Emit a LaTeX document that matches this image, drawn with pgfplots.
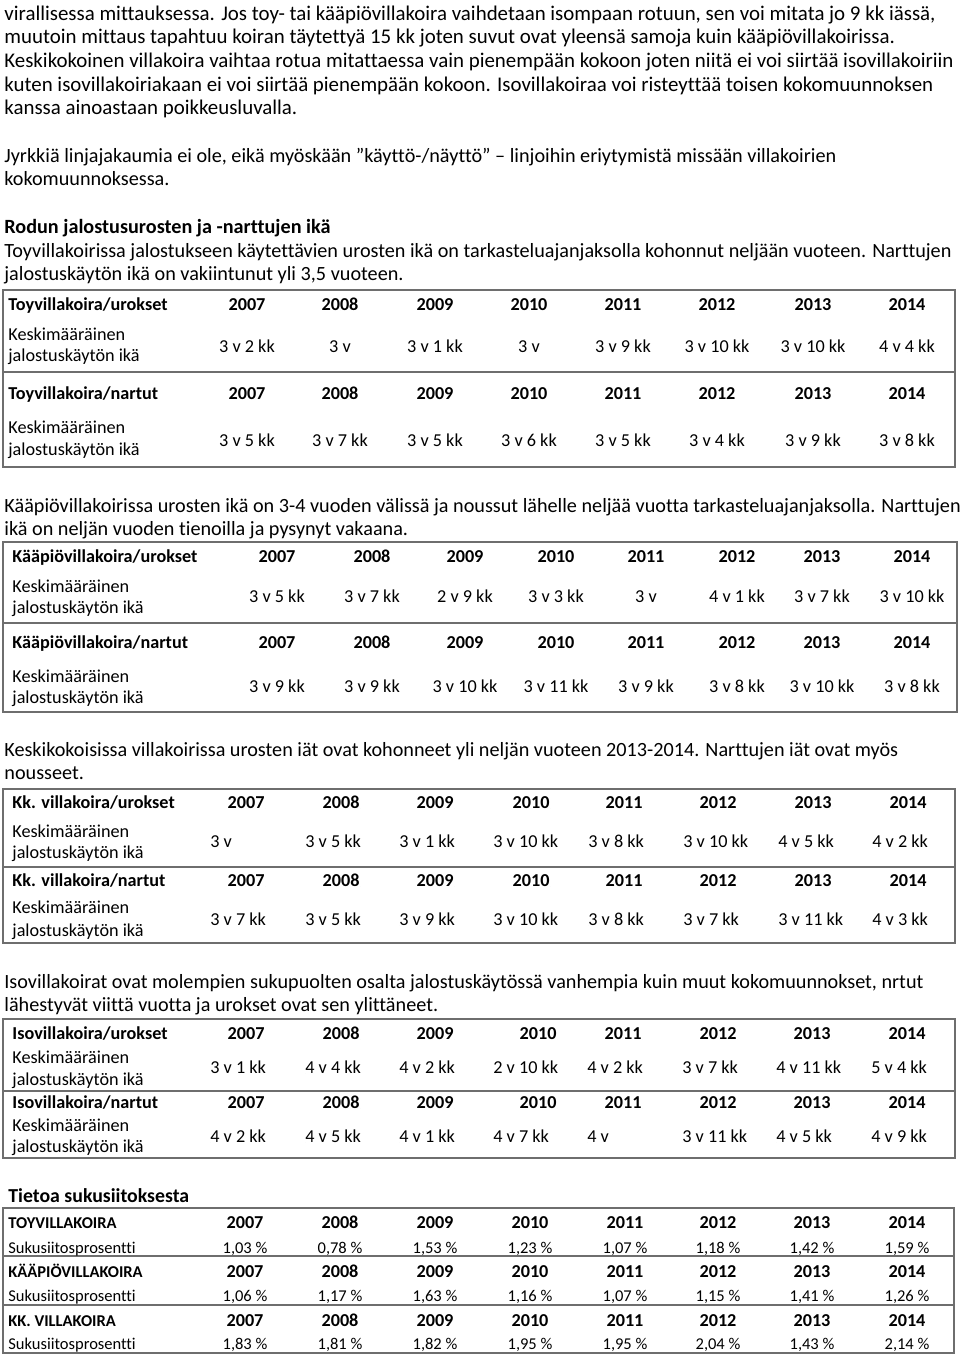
\documentclass[border=0pt]{standalone}
\usepackage{fontspec}
\setmainfont{Carlito}[Ligatures=NoCommon]
\usepackage{pgfplots}
\pgfplotsset{compat=1.18}
\newcommand{\bodyf}{\fontsize{9.1}{11}\selectfont}
\newcommand{\bodyb}{\fontsize{9.1}{11}\selectfont\bfseries}
\newcommand{\proA}{\fontsize{10.45}{12}\selectfont}
\newcommand{\pro}{\fontsize{10.1}{12}\selectfont}
\newcommand{\prob}{\fontsize{10.1}{12}\selectfont\bfseries}
\newcommand{\smallf}{\fontsize{8.25}{10}\selectfont}
\newcommand{\smallb}{\fontsize{8.25}{10}\selectfont\bfseries}
\newcommand{\headf}{\fontsize{9.9}{12}\selectfont\bfseries}
\definecolor{rulec}{RGB}{110,110,110}
\pgfplotsset{
  lbl/.style={only marks, mark=*, mark size=0pt, mark options={draw=none, fill=none},
    nodes near coords, point meta=explicit symbolic,
    every node near coord/.append style={anchor=base, inner sep=0pt, text=black, font=#1}},
  lbl/.default=\bodyf,
  lblW/.style={lbl=#1, every node near coord/.append style={anchor=base west}},
  lblW/.default=\bodyf,
  lblE/.style={lbl=#1, every node near coord/.append style={anchor=base east}},
  lblE/.default=\bodyb,
  pct/.style={only marks, mark=*, mark size=0pt, mark options={draw=none, fill=none},
    point meta=explicit,
    nodes near coords={\pgfmathprintnumber[fixed,fixed zerofill,precision=2,use comma,assume math mode=true]{\pgfplotspointmeta}\ \%},
    every node near coord/.append style={anchor=base, inner sep=0pt, text=black, font=\smallf}},
}
\newcommand{\tl}[3][4]{\node[anchor=base west, inner sep=0pt, font=\bodyf] at (axis cs:#1,#2) {#3};}
\newcommand{\tb}[3][4]{\node[anchor=base west, inner sep=0pt, font=\bodyb] at (axis cs:#1,#2) {#3};}
\newcommand{\pl}[3][\pro]{\node[anchor=base west, inner sep=0pt, font=#1] at (axis cs:4,#2) {#3};}
\begin{document}
\begin{tikzpicture}
\begin{axis}[width=480pt, height=678pt, scale only axis,
  xmin=0, xmax=960, ymin=0, ymax=1356, y dir=reverse,
  hide axis, clip=false]
% ---------- prose ----------
\pl[\proA]{20}{virallisessa mittauksessa. Jos toy- tai kääpiövillakoira vaihdetaan isompaan rotuun, sen voi mitata jo 9 kk iässä,}
\pl[\proA]{43.7}{muutoin mittaus tapahtuu koiran täytettyä 15 kk joten suvut ovat yleensä samoja kuin kääpiövillakoirissa.}
\pl[\proA]{67.4}{Keskikokoinen villakoira vaihtaa rotua mitattaessa vain pienempään kokoon joten niitä ei voi siirtää isovillakoiriin}
\pl[\proA]{91.1}{kuten isovillakoiriakaan ei voi siirtää pienempään kokoon. Isovillakoiraa voi risteyttää toisen kokomuunnoksen}
\pl[\proA]{114.8}{kanssa ainoastaan poikkeusluvalla.}
\pl{162.2}{Jyrkkiä linjajakaumia ei ole, eikä myöskään ”käyttö-/näyttö” – linjoihin eriytymistä missään villakoirien}
\pl{185.9}{kokomuunnoksessa.}
\pl[\prob]{233.4}{Rodun jalostusurosten ja -narttujen ikä}
\pl{257.1}{Toyvillakoirissa jalostukseen käytettävien urosten ikä on tarkasteluajanjaksolla kohonnut neljään vuoteen. Narttujen}
\pl{280.8}{jalostuskäytön ikä on vakiintunut yli 3,5 vuoteen.}
\pl{512}{Kääpiövillakoirissa urosten ikä on 3-4 vuoden välissä ja noussut lähelle neljää vuotta tarkasteluajanjaksolla. Narttujen}
\pl{535.7}{ikä on neljän vuoden tienoilla ja pysynyt vakaana.}
\pl{756}{Keskikokoisissa villakoirissa urosten iät ovat kohonneet yli neljän vuoteen 2013-2014. Narttujen iät ovat myös}
\pl{779.7}{nousseet.}
\pl{988}{Isovillakoirat ovat molempien sukupuolten osalta jalostuskäytössä vanhempia kuin muut kokomuunnokset, nrtut}
\pl{1011.7}{lähestyvät viittä vuotta ja urokset ovat sen ylittäneet.}
\node[anchor=base west, inner sep=0pt, font=\headf] at (axis cs:8,1202) {Tietoa sukusiitoksesta};
% ---------- frames ----------
\draw[rulec, line width=0.75pt] (axis cs:3,290) rectangle (axis cs:955,467);
\draw[rulec, line width=0.75pt] (axis cs:3,372) -- (axis cs:955,372);
\draw[rulec, line width=0.75pt] (axis cs:3,542) rectangle (axis cs:957,712);
\draw[rulec, line width=0.75pt] (axis cs:3,623) -- (axis cs:957,623);
\draw[rulec, line width=0.75pt] (axis cs:3,789) rectangle (axis cs:955,943);
\draw[rulec, line width=0.75pt] (axis cs:3,867) -- (axis cs:955,867);
\draw[rulec, line width=0.75pt] (axis cs:3,1019) rectangle (axis cs:955,1158);
\draw[rulec, line width=0.75pt] (axis cs:3,1091) -- (axis cs:955,1091);
\draw[rulec, line width=0.75pt] (axis cs:3,1208) rectangle (axis cs:954,1353);
\draw[rulec, line width=0.75pt] (axis cs:3,1256) -- (axis cs:954,1256);
\draw[rulec, line width=0.75pt] (axis cs:3,1305) -- (axis cs:954,1305);
% ---------- table 1: Toyvillakoira ----------
\tb[8]{310}{Toyvillakoira/urokset}
\tl[8]{340}{Keskimääräinen}
\tl[8]{361}{jalostuskäytön ikä}
\tb[8]{399.5}{Toyvillakoira/nartut}
\tl[8]{433}{Keskimääräinen}
\tl[8]{455}{jalostuskäytön ikä}
\addplot[lbl=\bodyb] coordinates {(247,310)[2007] (340,310)[2008] (435,310)[2009] (529,310)[2010] (623,310)[2011] (717,310)[2012] (813,310)[2013] (907,310)[2014]
 (247,399.5)[2007] (340,399.5)[2008] (435,399.5)[2009] (529,399.5)[2010] (623,399.5)[2011] (717,399.5)[2012] (813,399.5)[2013] (907,399.5)[2014]};
\addplot[lbl] coordinates {(247,352)[3 v 2 kk] (340,352)[3 v] (435,352)[3 v 1 kk] (529,352)[3 v] (623,352)[3 v 9 kk] (717,352)[3 v 10 kk] (813,352)[3 v 10 kk] (907,352)[4 v 4 kk]};
\addplot[lbl] coordinates {(247,446)[3 v 5 kk] (340,446)[3 v 7 kk] (435,446)[3 v 5 kk] (529,446)[3 v 6 kk] (623,446)[3 v 5 kk] (717,446)[3 v 4 kk] (813,446)[3 v 9 kk] (907,446)[3 v 8 kk]};
% ---------- table 2: Kääpiövillakoira ----------
\tb[12]{562}{Kääpiövillakoira/urokset}
\tl[12]{592}{Keskimääräinen}
\tl[12]{613}{jalostuskäytön ikä}
\tb[12]{648}{Kääpiövillakoira/nartut}
\tl[12]{682}{Keskimääräinen}
\tl[12]{703}{jalostuskäytön ikä}
\addplot[lbl=\bodyb] coordinates {(277,562)[2007] (372,562)[2008] (465,562)[2009] (556,562)[2010] (646,562)[2011] (737,562)[2012] (822,562)[2013] (912,562)[2014]
 (277,648)[2007] (372,648)[2008] (465,648)[2009] (556,648)[2010] (646,648)[2011] (737,648)[2012] (822,648)[2013] (912,648)[2014]};
\addplot[lbl] coordinates {(277,602)[3 v 5 kk] (372,602)[3 v 7 kk] (465,602)[2 v 9 kk] (556,602)[3 v 3 kk] (646,602)[3 v] (737,602)[4 v 1 kk] (822,602)[3 v 7 kk] (912,602)[3 v 10 kk]};
\addplot[lbl] coordinates {(277,692)[3 v 9 kk] (372,692)[3 v 9 kk] (465,692)[3 v 10 kk] (556,692)[3 v 11 kk] (646,692)[3 v 9 kk] (737,692)[3 v 8 kk] (822,692)[3 v 10 kk] (912,692)[3 v 8 kk]};
% ---------- table 3: Kk. villakoira ----------
\tb[12]{808}{Kk. villakoira/urokset}
\tl[12]{837}{Keskimääräinen}
\tl[12]{858}{jalostuskäytön ikä}
\tb[12]{886}{Kk. villakoira/nartut}
\tl[12]{913}{Keskimääräinen}
\tl[12]{936}{jalostuskäytön ikä}
\addplot[lblE] coordinates {(265,808)[2007] (360,808)[2008] (454,808)[2009] (550,808)[2010] (643,808)[2011] (737,808)[2012] (832,808)[2013] (927,808)[2014]
 (265,886)[2007] (360,886)[2008] (454,886)[2009] (550,886)[2010] (643,886)[2011] (737,886)[2012] (832,886)[2013] (927,886)[2014]};
\addplot[lblW] coordinates {(210,847)[3 v] (305,847)[3 v 5 kk] (399,847)[3 v 1 kk] (493,847)[3 v 10 kk] (588,847)[3 v 8 kk] (683,847)[3 v 10 kk] (778,847)[4 v 5 kk] (872,847)[4 v 2 kk]};
\addplot[lblW] coordinates {(210,925)[3 v 7 kk] (305,925)[3 v 5 kk] (399,925)[3 v 9 kk] (493,925)[3 v 10 kk] (588,925)[3 v 8 kk] (683,925)[3 v 7 kk] (778,925)[3 v 11 kk] (872,925)[4 v 3 kk]};
% ---------- table 4: Isovillakoira ----------
\tb[12]{1039}{Isovillakoira/urokset}
\tl[12]{1063}{Keskimääräinen}
\tl[12]{1085}{jalostuskäytön ikä}
\tb[12]{1108}{Isovillakoira/nartut}
\tl[12]{1131}{Keskimääräinen}
\tl[12]{1152}{jalostuskäytön ikä}
\addplot[lblE] coordinates {(265,1039)[2007] (360,1039)[2008] (454,1039)[2009] (557,1039)[2010] (642,1039)[2011] (737,1039)[2012] (831,1039)[2013] (926,1039)[2014]
 (265,1108)[2007] (360,1108)[2008] (454,1108)[2009] (557,1108)[2010] (642,1108)[2011] (737,1108)[2012] (831,1108)[2013] (926,1108)[2014]};
\addplot[lblW] coordinates {(210,1073)[3 v 1 kk] (305,1073)[4 v 4 kk] (399,1073)[4 v 2 kk] (493,1073)[2 v 10 kk] (587,1073)[4 v 2 kk] (682,1073)[3 v 7 kk] (776,1073)[4 v 11 kk] (871,1073)[5 v 4 kk]};
\addplot[lblW] coordinates {(210,1142)[4 v 2 kk] (305,1142)[4 v 5 kk] (399,1142)[4 v 1 kk] (493,1142)[4 v 7 kk] (587,1142)[4 v] (682,1142)[3 v 11 kk] (776,1142)[4 v 5 kk] (871,1142)[4 v 9 kk]};
% ---------- table 5: sukusiitos ----------
\node[anchor=base west, inner sep=0pt, font=\smallb] at (axis cs:8,1228) {TOYVILLAKOIRA};
\node[anchor=base west, inner sep=0pt, font=\smallf] at (axis cs:8,1253) {Sukusiitosprosentti};
\node[anchor=base west, inner sep=0pt, font=\smallb] at (axis cs:8,1277) {KÄÄPIÖVILLAKOIRA};
\node[anchor=base west, inner sep=0pt, font=\smallf] at (axis cs:8,1301) {Sukusiitosprosentti};
\node[anchor=base west, inner sep=0pt, font=\smallb] at (axis cs:8,1326) {KK. VILLAKOIRA};
\node[anchor=base west, inner sep=0pt, font=\smallf] at (axis cs:8,1349) {Sukusiitosprosentti};
\addplot[lbl=\bodyb] coordinates {(245,1228)[2007] (340,1228)[2008] (435,1228)[2009] (530,1228)[2010] (625,1228)[2011] (718,1228)[2012] (812,1228)[2013] (907,1228)[2014]
 (245,1277)[2007] (340,1277)[2008] (435,1277)[2009] (530,1277)[2010] (625,1277)[2011] (718,1277)[2012] (812,1277)[2013] (907,1277)[2014]
 (245,1326)[2007] (340,1326)[2008] (435,1326)[2009] (530,1326)[2010] (625,1326)[2011] (718,1326)[2012] (812,1326)[2013] (907,1326)[2014]};
\addplot[pct] coordinates {(245,1253)[1.03] (340,1253)[0.78] (435,1253)[1.53] (530,1253)[1.23] (625,1253)[1.07] (718,1253)[1.18] (812,1253)[1.42] (907,1253)[1.59]};
\addplot[pct] coordinates {(245,1301)[1.06] (340,1301)[1.17] (435,1301)[1.63] (530,1301)[1.16] (625,1301)[1.07] (718,1301)[1.15] (812,1301)[1.41] (907,1301)[1.26]};
\addplot[pct] coordinates {(245,1349)[1.83] (340,1349)[1.81] (435,1349)[1.82] (530,1349)[1.95] (625,1349)[1.95] (718,1349)[2.04] (812,1349)[1.43] (907,1349)[2.14]};
\end{axis}
\pgfresetboundingbox
\useasboundingbox (0,0) rectangle (480pt,678pt);
\end{tikzpicture}
\end{document}
